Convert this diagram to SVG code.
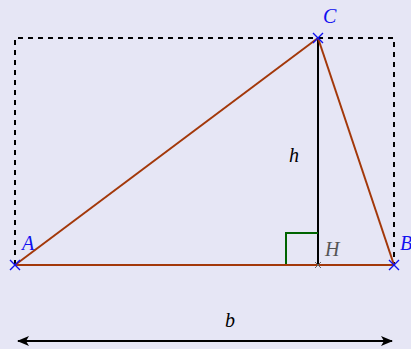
<svg xmlns="http://www.w3.org/2000/svg" width="411" height="349" viewBox="0 0 411 349">
<style>
.lbl{font-family:"Liberation Serif","DejaVu Serif",serif;font-style:italic;font-size:20px}
.side{stroke:#A3380A;stroke-width:2;fill:none}
.pt{stroke:#1010F0;stroke-width:1.4;fill:none}
</style>
<defs>
<marker id="ah" viewBox="0 0 12 10" refX="11" refY="5" markerWidth="12" markerHeight="10" markerUnits="userSpaceOnUse" orient="auto-start-reverse">
<path d="M0,0 L12,5 L0,10 L3,5 Z" fill="#000"/>
</marker>
</defs>
<rect width="411" height="349" fill="#E6E6F5"/>
<g id="connectors">
<path d="M15,265 L15,38 L394,38 L394,265" fill="none" stroke="#000" stroke-width="2" stroke-dasharray="5,5"/>
<line x1="318" y1="38" x2="318" y2="265" stroke="#000" stroke-width="2"/>
<path d="M286,265 L286,233 L318,233" fill="none" stroke="#006400" stroke-width="2"/>
<line class="side" x1="15" y1="265" x2="394" y2="265"/>
<line class="side" x1="15" y1="265" x2="318" y2="38"/>
<line class="side" x1="318" y1="38" x2="394" y2="265"/>
<line x1="18" y1="341" x2="392" y2="341" stroke="#000" stroke-width="2" marker-start="url(#ah)" marker-end="url(#ah)"/>
</g>
<g id="A"><path class="pt" d="M10,260 L20,270 M10,270 L20,260"/><text class="lbl" x="22" y="250" fill="#1010F0">A</text></g>
<g id="B"><path class="pt" d="M389,260 L399,270 M389,270 L399,260"/><text class="lbl" x="400" y="250" fill="#1010F0">B</text></g>
<g id="C"><path class="pt" d="M313,33 L323,43 M313,43 L323,33"/><text class="lbl" x="323" y="23" fill="#1010F0">C</text></g>
<g id="H"><path d="M315,262 L321,268 M315,268 L321,262" stroke="#666" stroke-width="1" fill="none"/><text class="lbl" x="325" y="256" fill="#555">H</text></g>
<g id="h"><text class="lbl" x="289" y="162" fill="#000">h</text></g>
<g id="b"><text class="lbl" x="225" y="327" fill="#000">b</text></g>
</svg>
